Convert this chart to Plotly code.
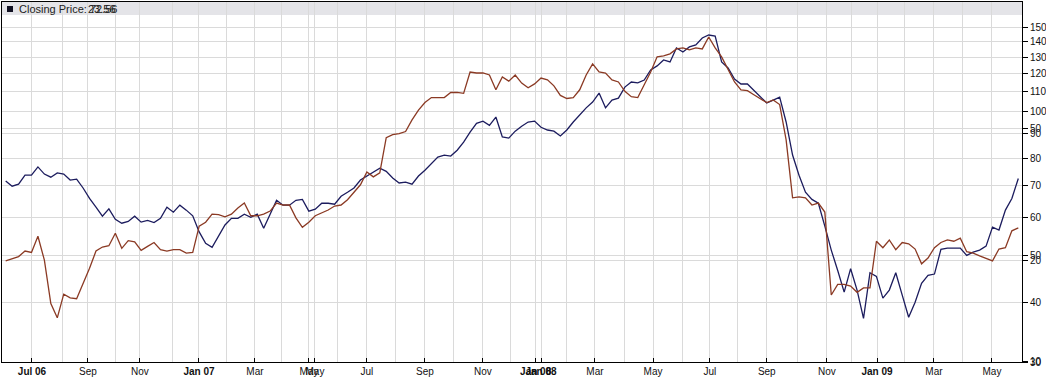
import plotly.graph_objects as go

# weekly index (Jun 2006 .. Jun 2009)
week = list(range(158))

navy = [71.7, 69.9, 70.6, 73.7, 73.7, 76.7, 74.1, 73.0, 74.5, 74.1,
        72.0, 72.3, 69.3, 65.9, 63.2, 60.5, 62.7, 59.6, 58.5, 59.0,
        60.5, 58.8, 59.3, 58.7, 59.9, 63.2, 61.7, 63.8, 62.3, 60.6,
        56.1, 53.1, 52.1, 55.0, 58.0, 59.9, 59.9, 61.1, 60.2, 61.1,
        57.1, 61.1, 65.3, 63.8, 63.8, 65.3, 65.6, 62.0, 62.6, 64.4,
        64.4, 64.1, 66.6, 67.9, 69.3, 72.0, 73.4, 74.8, 76.2, 75.1,
        72.7, 71.0, 71.3, 70.6, 73.4, 75.5, 78.1, 80.4, 81.2, 80.8,
        83.1, 86.4, 90.7, 94.6, 95.6, 93.7, 97.5, 88.6, 88.1, 91.1,
        93.3, 95.2, 95.6, 92.8, 91.6, 91.1, 89.0, 91.6, 95.2, 98.5,
        101.9, 104.8, 109.4, 101.9, 105.8, 106.8, 112.6, 115.4, 114.9, 116.5,
        122.3, 124.7, 128.3, 127.1, 135.9, 133.3, 136.6, 137.9, 142.6, 144.7,
        144.0, 127.1, 123.5, 117.1, 114.3, 114.3, 111.0, 107.8, 104.3, 105.8,
        107.3, 95.2, 81.2, 73.7, 67.9, 65.6, 64.4, 57.7, 51.4, 46.6,
        42.0, 47.0, 42.4, 37.0, 46.1, 45.3, 40.8, 42.4, 46.1, 41.4,
        37.2, 40.0, 43.8, 45.5, 45.8, 51.6, 51.9, 51.9, 51.9, 50.1,
        50.9, 51.4, 52.4, 57.4, 56.6, 62.3, 65.9, 72.56]

brown = [20.0, 20.3, 20.6, 21.4, 21.2, 23.7, 20.1, 14.9, 13.5, 15.9,
         15.5, 15.4, 17.0, 19.0, 21.4, 22.0, 22.2, 24.2, 21.8, 23.0,
         22.8, 21.5, 22.1, 22.7, 21.6, 21.4, 21.6, 21.6, 21.1, 21.2,
         25.4, 26.1, 27.6, 27.5, 27.1, 27.6, 28.8, 29.8, 27.3, 27.3,
         27.6, 28.2, 29.8, 29.4, 29.4, 26.9, 25.2, 26.1, 27.3, 27.8,
         28.4, 29.2, 29.4, 30.5, 32.0, 33.8, 36.9, 35.7, 36.7, 46.8,
         47.8, 48.1, 48.8, 52.9, 56.6, 59.6, 61.7, 61.7, 61.7, 63.9,
         63.9, 63.5, 73.6, 73.1, 73.1, 72.1, 65.1, 71.1, 69.1, 72.1,
         68.2, 66.0, 67.8, 70.6, 69.7, 66.9, 62.6, 61.3, 61.7, 65.1,
         72.1, 77.8, 73.6, 73.1, 69.7, 68.7, 64.4, 62.1, 61.7, 67.4,
         73.6, 81.7, 82.3, 83.4, 86.3, 86.9, 85.7, 86.9, 86.3, 93.7,
         86.9, 81.7, 74.6, 68.7, 65.1, 64.7, 62.9, 61.3, 59.6, 60.7,
         58.8, 46.1, 30.9, 31.1, 30.9, 29.4, 29.8, 28.0, 15.8, 17.0,
         17.0, 16.8, 16.1, 16.6, 16.6, 22.9, 21.9, 23.1, 21.6, 22.7,
         22.5, 21.7, 19.6, 20.4, 21.9, 22.7, 23.1, 22.9, 23.4, 21.3,
         21.1, 20.7, 20.4, 20.0, 21.7, 21.9, 24.6, 25.1]

# month tick positions in week-index units (two overlaid chart calendars)
x_tick_pos = [4.08, 12.76, 20.82, 29.97, 38.65, 47.02, 47.95, 56.01, 65.01, 74.0,
              82.17, 83.0, 91.36, 100.36, 109.19, 118.0, 127.33, 135.09, 143.92, 152.91]
x_tick_text = ["<b>Jul 06</b>", "Sep", "Nov", "<b>Jan 07</b>", "Mar", "May", "May",
               "Jul", "Sep", "Nov", "<b>Jan 08</b>", "<b>Jan 08</b>", "Mar", "May",
               "Jul", "Sep", "Nov", "<b>Jan 09</b>", "Mar", "May"]
minor_pos = [8.88, 16.95, 25.94, 34.3, 42.8, 51.5, 60.5, 69.5, 78.2, 86.9,
             95.9, 104.9, 113.5, 122.7, 131.2, 139.4, 148.4]

y1_ticks = [30, 40, 50, 60, 70, 80, 90, 100, 110, 120, 130, 140, 150]
y2_ticks = [10, 20, 50]

legend_label = "Closing Price: "
last_navy = "72.56"
last_brown = "23.56"

NAVY = "#1c1c5e"
BROWN = "#8b3a24"
GRID = "#dadada"
FONT = "Liberation Sans"

fig = go.Figure()
fig.add_trace(go.Scatter(x=week, y=navy, mode="lines",
                         line=dict(color=NAVY, width=1.3),
                         xaxis="x", yaxis="y", showlegend=False))
fig.add_trace(go.Scatter(x=week, y=brown, mode="lines",
                         line=dict(color=BROWN, width=1.3),
                         xaxis="x", yaxis="y2", showlegend=False))

W, H = 1046, 382
L, R, T, B = 2, 24, 2, 20
pw, ph = W - L - R, H - T - B

def px(p):
    return (p - L) / pw

def py(q):
    return (H - B - q) / ph

xrange = [-0.57, 157.57]

fig.update_layout(
    width=W, height=H,
    margin=dict(l=L, r=R, t=T, b=B, autoexpand=False),
    paper_bgcolor="white", plot_bgcolor="white",
    font=dict(family=FONT, size=10, color="#111"),
    xaxis=dict(range=xrange, tickmode="array", tickvals=x_tick_pos,
               ticktext=x_tick_text, tickangle=0, automargin=False,
               showgrid=True, gridcolor=GRID, gridwidth=1,
               ticks="inside", ticklen=4, tickcolor="black",
               showline=True, linecolor="black", linewidth=1, mirror=True,
               zeroline=False, tickfont=dict(size=10, family=FONT),
               minor=dict(tickmode="array", tickvals=minor_pos, showgrid=True,
                          gridcolor=GRID, gridwidth=1, ticks="")),
    yaxis=dict(type="log", range=[1.47712, 2.2294], side="right",
               automargin=False, tickmode="array", tickvals=y1_ticks,
               ticktext=[str(v) for v in y1_ticks],
               showgrid=True, gridcolor=GRID, gridwidth=1,
               ticks="outside", ticklen=5, tickcolor="black",
               showline=True, linecolor="black", linewidth=1, mirror=True,
               zeroline=False, tickfont=dict(size=10, family=FONT)),
    yaxis2=dict(type="log", range=[0.998, 2.0766], side="right", overlaying="y",
                anchor="x", automargin=False, tickmode="array", tickvals=y2_ticks,
                ticktext=[str(v) for v in y2_ticks],
                showgrid=True, gridcolor=GRID, gridwidth=1,
                ticks="outside", ticklen=5, tickcolor="black",
                zeroline=False, tickfont=dict(size=10, family=FONT)),
)

# legend band
fig.add_shape(type="rect", xref="paper", yref="paper", x0=0, x1=1,
              y0=py(15), y1=1, fillcolor="#e4e4e8", line=dict(width=0),
              layer="below")
fig.add_shape(type="rect", xref="paper", yref="paper", x0=px(7), x1=px(13),
              y0=py(12), y1=py(6), fillcolor="#111122", line=dict(width=0))
fig.add_annotation(xref="paper", yref="paper", x=px(17), y=py(8.5),
                   xanchor="left", yanchor="middle", showarrow=False,
                   text=legend_label + last_navy,
                   font=dict(family=FONT, size=11, color="#222"))
fig.add_annotation(xref="paper", yref="paper", x=px(17 + 68.5), y=py(8.5),
                   xanchor="left", yanchor="middle", showarrow=False,
                   text=last_brown,
                   font=dict(family=FONT, size=11, color="#222"))

fig.write_html("out.html")
